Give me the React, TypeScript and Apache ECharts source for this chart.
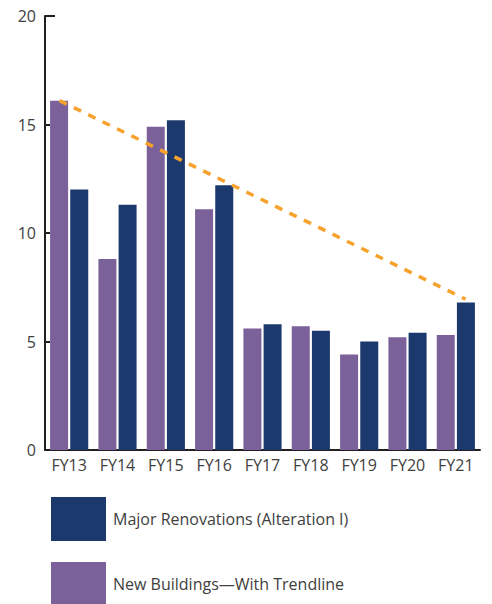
import React, { useEffect, useRef } from "react";
import * as echarts from "echarts";

const categories = ["FY13", "FY14", "FY15", "FY16", "FY17", "FY18", "FY19", "FY20", "FY21"];
const newBuildings = [16.1, 8.8, 14.9, 11.1, 5.6, 5.7, 4.4, 5.2, 5.3];
const majorRenovations = [12.0, 11.3, 15.2, 12.2, 5.8, 5.5, 5.0, 5.4, 6.8];
// trendline endpoints: [position in category units, value]
const trendPoints: [number, number][] = [
  [0.3, 16.1],
  [8.7, 6.95],
];
const yTicks = [0, 5, 10, 15, 20];
const seriesNames = ["New Buildings—With Trendline", "Major Renovations (Alteration I)"];

const BLUE = "#1c396d";
const PURPLE = "#7a6199";
const ORANGE = "#f6a22c";
const AXIS = "#231f20";
const TEXT = "#404040";
const FONT = "Open Sans";

const legendBase = {
  orient: "vertical",
  left: 51,
  padding: 0,
  itemWidth: 55,
  itemHeight: 44,
  icon: "rect",
  textStyle: { fontFamily: FONT, fontSize: 16, color: TEXT, padding: [0, 0, 0, 2] },
};

export default function App() {
  const ref = useRef<HTMLDivElement>(null);
  useEffect(() => {
    document.body.style.margin = "0";
    const chart = echarts.init(ref.current!, undefined, { renderer: "svg" });
    chart.setOption({
      animation: false,
      textStyle: { fontFamily: FONT },
      grid: { left: 45, right: 12, top: 16, bottom: 154, containLabel: false },
      legend: [
        { ...legendBase, top: 497, data: [seriesNames[1]] },
        { ...legendBase, top: 562, data: [seriesNames[0]] },
      ],
      xAxis: [
        {
          type: "category",
          data: categories,
          axisLine: { lineStyle: { color: AXIS, width: 2 } },
          axisTick: { inside: true, length: 10, lineStyle: { color: AXIS, width: 2 } },
          axisLabel: { fontFamily: FONT, fontSize: 16, color: TEXT, margin: 7 },
        },
        {
          type: "value",
          min: 0,
          max: categories.length,
          show: false,
        },
      ],
      yAxis: {
        type: "value",
        min: yTicks[0],
        max: yTicks[yTicks.length - 1],
        interval: 5,
        splitLine: { show: false },
        axisLine: { show: true, lineStyle: { color: AXIS, width: 2 } },
        axisTick: { show: true, inside: true, length: 5, lineStyle: { color: AXIS, width: 2 } },
        axisLabel: { fontFamily: FONT, fontSize: 16, color: TEXT, margin: 9 },
      },
      series: [
        {
          name: seriesNames[0],
          type: "bar",
          data: newBuildings,
          barWidth: 18,
          barGap: "12%",
          itemStyle: { color: PURPLE },
        },
        {
          name: seriesNames[1],
          type: "bar",
          data: majorRenovations,
          barWidth: 18,
          barGap: "12%",
          itemStyle: { color: BLUE },
        },
        {
          name: "Trend",
          type: "line",
          xAxisIndex: 1,
          data: trendPoints,
          symbol: "none",
          lineStyle: { color: ORANGE, width: 3.5, type: [8, 8] },
          z: 5,
        },
      ],
    });
    const topY = chart.convertToPixel({ yAxisIndex: 0 }, yTicks[yTicks.length - 1]) as number;
    chart.setOption({
      graphic: [
        {
          type: "line",
          shape: { x1: 45, y1: topY, x2: 55, y2: topY },
          style: { stroke: AXIS, lineWidth: 2 },
        },
      ],
    });
    return () => chart.dispose();
  }, []);
  return <div ref={ref} style={{ width: 492, height: 604 }} />;
}
